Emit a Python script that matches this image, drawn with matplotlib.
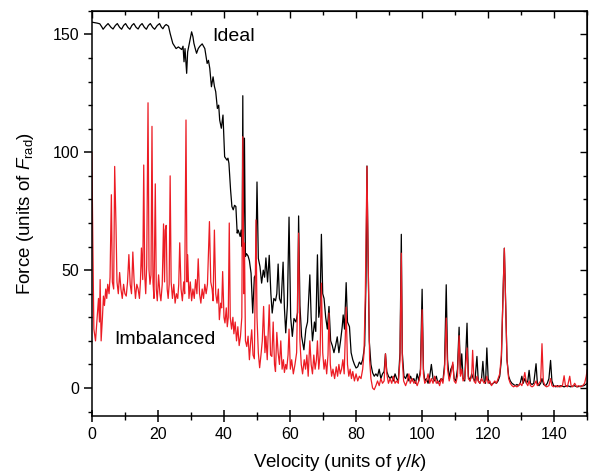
import matplotlib
matplotlib.use('Agg')
import matplotlib.pyplot as plt
from matplotlib.ticker import MultipleLocator

plt.rcParams['font.family'] = ['Liberation Sans', 'DejaVu Sans']
plt.rcParams['mathtext.fontset'] = 'custom'
plt.rcParams['mathtext.rm'] = 'Liberation Sans'
plt.rcParams['mathtext.it'] = 'Liberation Sans:italic'

# Ideal (black) force vs velocity
vel_ideal = [0, 0.8, 1.6, 2.4, 3.0, 3.4, 4.2, 4.9, 5.8, 6.4, 7.1, 7.7, 8.4, 9.0,
             9.6, 10.2, 10.9, 11.5, 12.1, 12.7, 13.4, 14.0, 14.6, 15.2, 15.9, 16.5,
             17.1, 17.7, 18.4, 19.0, 19.8, 20.5, 21.0, 21.5, 22.0, 22.5,
             23.2, 23.7, 24.5, 25.5, 26.2, 27.2, 27.6, 27.9, 28.2, 28.4, 28.7, 29.0,
             29.7, 30.2, 30.6, 30.9, 31.3, 31.7, 32.2, 32.7, 33.4, 34.2, 34.9, 35.3,
             35.7, 36.2, 36.7, 37.1, 37.5, 38.0, 38.4, 38.7, 39.2, 39.7, 40.2, 40.9,
             41.2, 41.5, 42.0, 42.4, 42.8, 43.2, 43.6, 44.0, 44.3, 44.9, 45.2, 45.5,
             45.7, 45.9, 46.2, 46.5, 46.8, 47.3, 47.7, 48.2, 48.7, 49.2, 49.6, 50.0,
             50.4, 50.9, 51.4, 51.9, 52.3, 52.7, 53.2, 53.7, 54.2, 54.6, 55.1, 55.6,
             56.0, 56.4, 56.8, 57.3, 57.9, 58.3, 58.7, 59.2, 59.7, 60.2, 60.7, 61.2,
             61.8, 62.3, 62.6, 63.0, 63.5, 64.2, 64.8, 65.3, 66.0, 66.4, 66.8, 67.4,
             67.8, 68.3, 68.7, 69.1, 69.5, 69.9, 70.3, 70.8, 71.3, 71.8, 72.3, 72.8,
             73.3, 73.8, 74.3, 74.8, 75.3, 75.8, 76.1, 76.5, 77.0, 77.4, 78.0, 78.5,
             79.0, 79.5, 80.0, 80.5, 81.0, 81.5, 82.0, 82.6, 83.0, 83.3, 83.6, 84.0,
             84.5, 85.0, 85.5, 86.0, 86.5, 87.0, 87.5, 88.0, 88.5, 88.9, 89.3, 89.8,
             90.3, 90.8, 91.3, 91.8, 92.3, 92.8, 93.3, 93.7, 94.0, 94.5, 95.0, 95.5,
             96.0, 96.5, 97.0, 97.5, 98.0, 98.5, 99.0, 99.5, 100.0, 100.4, 100.8, 101.3,
             101.8, 102.3, 102.8, 103.3, 103.8, 104.3, 104.8, 105.3, 105.8, 106.3, 106.8,
             107.3, 107.7, 108.2, 108.7, 109.3, 109.7, 110.2, 110.7, 111.2, 111.6, 112.0,
             112.4, 112.9, 113.6, 114.0, 114.5, 115.0, 115.5, 116.0, 116.6, 117.0, 117.5,
             118.0, 118.4, 118.8, 119.2, 119.6, 120.0, 120.5, 121.0, 121.5, 122.0, 122.5,
             123.0, 123.5, 124.0, 124.5, 124.9, 125.3, 125.7, 126.2, 126.7, 127.2, 127.7,
             128.2, 128.7, 129.2, 129.7, 130.2, 130.6, 131.1, 131.6, 132.0, 132.4, 132.8,
             133.3, 133.8, 134.5, 134.9, 135.4, 135.9, 136.3, 136.8, 137.4, 137.9, 138.4,
             138.9, 139.3, 139.8, 140.5, 141.0, 141.5, 142.0, 143.0, 144.0, 145.0, 146.0,
             147.0, 148.0, 149.0, 150.0]
force_ideal = [155.2, 155.0, 154.8, 154.5, 153.2, 152.2, 153.6, 154.6, 153.0, 152.3, 153.8, 154.6,
               153.0, 152.2, 153.8, 154.6, 153.0, 152.2, 153.8, 154.6, 153.0, 152.3, 153.8, 154.6,
               153.0, 152.2, 153.8, 154.6, 153.0, 152.2, 153.8, 154.6, 153.2, 152.4, 153.6, 154.2,
               153.5, 150.4, 146.2, 144.0, 144.7, 143.6, 145.0, 138.4, 144.0, 140.0, 133.5, 142.6,
               147.6, 151.1, 149.0, 146.2, 144.0, 142.0, 144.0, 145.0, 146.0, 144.0, 137.7, 139.0,
               135.6, 127.8, 132.0, 128.0, 125.7, 118.6, 120.0, 113.7, 110.2, 115.8, 98.1, 96.7,
               97.5, 95.3, 84.0, 77.0, 75.6, 77.5, 77.0, 65.7, 67.0, 64.3, 67.0, 60.0,
               124.0, 58.0, 106.0, 55.8, 57.0, 56.0, 54.0, 48.7, 31.8, 47.0, 48.0, 87.4,
               55.0, 51.5, 44.5, 50.0, 47.0, 55.2, 45.0, 56.3, 40.0, 31.8, 38.0, 37.0,
               40.0, 52.6, 38.0, 36.0, 53.4, 34.0, 23.4, 35.0, 72.5, 30.0, 21.9, 29.5,
               28.0, 32.0, 73.0, 35.0, 22.0, 16.2, 25.0, 28.0, 48.0, 30.0, 20.0, 28.0,
               24.0, 56.5, 30.0, 35.0, 65.2, 40.0, 38.0, 30.0, 25.0, 34.6, 20.0, 18.0,
               15.0, 18.0, 21.7, 15.0, 20.0, 26.0, 31.0, 25.0, 44.7, 28.0, 26.0, 15.0,
               12.0, 10.0, 8.5, 9.0, 11.0, 10.0, 12.0, 18.0, 45.0, 94.2, 60.0, 20.0,
               10.0, 6.5, 5.0, 6.0, 5.0, 8.0, 4.0, 6.0, 7.0, 14.5, 7.0, 5.0,
               4.0, 5.0, 3.0, 6.0, 4.0, 3.0, 15.0, 65.2, 15.0, 5.0, 4.0, 6.0,
               3.0, 5.0, 3.0, 4.0, 2.0, 6.0, 3.0, 8.0, 41.9, 8.0, 3.0, 4.0,
               2.0, 5.0, 10.0, 4.0, 3.0, 5.0, 2.0, 3.0, 4.0, 3.0, 10.0,
               43.8, 12.0, 4.0, 8.0, 9.9, 4.0, 3.0, 8.0, 25.8, 6.0, 14.5,
               4.0, 3.0, 27.5, 5.0, 3.0, 6.0, 4.0, 3.0, 13.4, 3.0, 2.0,
               4.0, 11.3, 3.0, 2.0, 17.0, 4.0, 2.0, 1.5, 2.0, 2.5, 2.0,
               3.0, 5.0, 12.0, 40.0, 59.3, 35.0, 12.0, 5.0, 3.0, 2.0, 1.5,
               1.0, 1.5, 1.0, 2.0, 5.0, 2.0, 4.0, 2.0, 3.0, 7.5, 2.0,
               1.5, 2.0, 10.3, 2.0, 1.0, 2.0, 4.0, 1.5, 1.0, 2.0, 4.0,
               11.7, 3.0, 1.0, 0.5, 1.0, 0.5, 1.0, 0.5, 1.0, 0.5, 1.0,
               0.5, 0.8, 1.0, 2.0]

# Imbalanced (red) force vs velocity
vel_imb = [0, 0.3, 0.6, 1.1, 1.6, 2.0, 2.3, 2.5, 2.8, 3.2, 3.5, 3.8, 4.2, 4.5, 4.8, 5.2,
           5.5, 5.9, 6.2, 6.6, 6.9, 7.3, 7.6, 8.0, 8.4, 8.8, 9.2, 9.6, 10.0, 10.4, 10.8,
           11.2, 11.6, 12.0, 12.4, 12.8, 13.2, 13.6, 14.0, 14.4, 14.7, 15.0, 15.4, 15.7,
           16.0, 16.3, 16.6, 17.0, 17.3, 17.6, 17.9, 18.2, 18.5, 18.8, 19.2, 19.5, 19.8,
           20.2, 20.6, 20.9, 21.3, 21.7, 22.0, 22.2, 22.5, 22.8, 23.1, 23.4, 23.7, 24.0,
           24.4, 24.8, 25.2, 25.6, 26.0, 26.3, 26.6, 27.0, 27.4, 27.8, 28.1, 28.5, 28.8,
           29.0, 29.4, 29.8, 30.2, 30.6, 31.0, 31.4, 31.8, 32.2, 32.6, 33.0, 33.4, 33.8,
           34.2, 34.6, 35.0, 35.6, 36.0, 36.4, 36.7, 37.1, 37.5, 37.9, 38.3, 38.6, 39.0,
           39.3, 39.6, 40.0, 40.3, 40.7, 41.0, 41.3, 41.6, 41.9, 42.3, 42.7, 43.0, 43.4,
           43.8, 44.2, 44.6, 45.0, 45.4, 45.7, 46.0, 46.2, 46.5, 46.9, 47.3, 47.7, 48.1,
           48.4, 48.8, 49.2, 49.7, 50.0, 50.4, 50.8, 51.2, 51.6, 52.0, 52.4, 52.7, 53.1,
           53.7, 54.1, 54.5, 54.9, 55.3, 55.6, 56.0, 56.4, 56.8, 57.2, 57.6, 58.0, 58.3,
           58.7, 59.0, 59.4, 59.7, 60.1, 60.5, 61.0, 61.5, 62.0, 62.6, 63.0, 63.4, 63.8,
           64.3, 64.7, 65.1, 65.5, 66.0, 66.4, 66.8, 67.2, 67.6, 68.0, 68.3, 68.7, 69.1,
           69.5, 69.9, 70.3, 70.7, 71.1, 71.5, 71.8, 72.2, 72.6, 73.0, 73.5, 74.0, 74.4,
           74.8, 75.2, 75.6, 76.0, 76.4, 77.0, 77.4, 77.8, 78.2, 78.6, 79.0, 79.5, 80.0,
           80.5, 81.0, 81.5, 82.0, 82.4, 82.8, 83.3, 83.7, 84.1, 84.5, 85.0, 85.5, 86.0,
           86.5, 87.0, 87.5, 88.0, 88.5, 88.9, 89.3, 89.8, 90.3, 90.8, 91.3, 91.8, 92.3,
           92.8, 93.3, 93.7, 94.0, 94.4, 95.0, 95.5, 96.0, 96.4, 97.0, 97.5, 98.0, 98.5,
           99.0, 99.5, 100.0, 100.4, 100.8, 101.3, 101.8, 102.3, 102.8, 103.3, 103.8,
           104.3, 104.8, 105.3, 105.8, 106.3, 106.8, 107.3, 107.7, 108.2, 108.7, 109.3,
           109.7, 110.2, 110.7, 111.2, 111.6, 112.0, 112.4, 112.9, 113.6, 114.0, 114.5,
           115.0, 115.3, 115.7, 116.2, 116.6, 117.0, 117.5, 118.0, 118.4, 118.8, 119.3,
           119.6, 120.0, 120.5, 121.0, 121.5, 122.0, 122.5, 123.0, 123.5, 124.0, 124.5,
           124.9, 125.3, 125.7, 126.2, 126.7, 127.2, 127.7, 128.2, 128.7, 129.2, 129.7,
           130.2, 130.6, 131.1, 131.6, 132.0, 132.4, 132.8, 133.3, 133.8, 134.5, 134.9,
           135.4, 135.9, 136.3, 136.7, 137.2, 137.7, 138.4, 138.9, 139.3, 139.8, 140.5,
           141.0, 141.5, 142.0, 142.5, 143.0, 143.4, 144.0, 144.7, 145.1, 145.6, 146.2,
           146.8, 147.3, 148.0, 148.6, 149.2, 149.7, 150.0]
force_imb = [100.0, 60.0, 25.0, 20.0, 30.0, 38.0, 28.0, 46.0, 20.0, 30.0, 39.0, 35.0, 42.0, 38.0, 44.0, 40.0,
             47.0, 82.0, 45.0, 42.0, 94.0, 69.0, 45.0, 40.0, 49.0, 42.0, 38.0, 44.0, 40.0, 39.0, 45.0,
             56.6, 44.0, 40.0, 57.7, 45.0, 38.0, 44.0, 42.0, 38.0, 45.0, 59.4, 46.0, 94.6,
             48.0, 40.0, 52.0, 121.0, 50.0, 44.0, 48.0, 111.0, 45.0, 38.0, 86.6, 42.0, 37.0,
             48.0, 40.0, 37.0, 44.0, 69.6, 45.0, 67.0, 69.0, 42.0, 38.0, 44.0, 90.0, 45.0,
             38.0, 44.0, 36.0, 40.0, 38.0, 44.0, 61.6, 42.0, 37.0, 45.0, 40.0, 113.7, 45.0,
             56.5, 38.0, 45.0, 37.0, 42.0, 38.0, 46.0, 40.0, 54.8, 40.0, 36.0, 42.0, 38.0,
             44.0, 40.0, 44.0, 70.6, 45.0, 42.0, 37.0, 67.0, 40.0, 36.0, 42.0, 29.0, 36.0,
             34.0, 49.4, 30.0, 27.6, 34.0, 26.0, 30.0, 70.0, 30.0, 25.0, 30.0, 23.0, 28.0,
             20.0, 26.0, 18.0, 22.0, 30.0, 106.6, 40.0, 61.5, 20.0, 17.6, 22.0, 12.0, 20.0,
             24.7, 14.0, 12.4, 71.3, 30.0, 15.0, 8.6, 14.0, 20.0, 34.6, 15.0, 22.0, 12.0,
             35.3, 14.0, 13.4, 28.0, 10.0, 7.0, 23.6, 15.0, 10.0, 20.0, 8.0, 12.0, 6.6,
             10.0, 8.0, 14.0, 25.0, 8.0, 12.0, 6.0, 10.0, 15.0, 65.7, 20.0, 10.0, 6.0,
             12.0, 8.0, 14.0, 5.0, 20.0, 10.0, 6.0, 14.0, 8.0, 12.0, 20.0, 8.0, 14.0,
             44.5, 15.0, 8.0, 12.0, 6.0, 14.0, 31.8, 10.0, 5.0, 8.0, 4.0, 9.0, 5.0,
             10.0, 6.0, 8.0, 12.0, 6.0, 34.3, 10.0, 5.0, 8.0, 4.0, 7.0, 3.0, 6.0,
             3.0, 5.0, 4.0, 8.0, 14.8, 40.0, 94.0, 50.0, 12.0, 4.0, 0.0, -0.7, 1.0,
             3.0, 1.0, 4.0, 2.0, 3.0, 14.5, 6.0, 2.0, 4.0, 2.0, 5.0, 2.0, 3.0,
             2.0, 12.0, 57.2, 12.0, 3.0, 1.0, 3.0, 6.0, 2.0, 4.0, 2.0, 3.0, 1.0,
             3.0, 6.0, 33.2, 6.0, 2.0, 3.0, 6.0, 2.0, 4.0, 2.0, 5.0,
             2.0, 3.0, 1.0, 4.0, 2.0, 8.0, 29.7, 8.0, 3.0, 6.0, 11.0,
             3.0, 2.0, 5.0, 22.2, 5.0, 8.0, 3.0, 4.0, 17.0, 4.0, 3.0,
             5.0, 16.0, 3.0, 2.0, 5.0, 3.0, 2.0, 4.0, 3.0, 2.0, 3.0,
             5.0, 2.0, 3.0, 1.0, 2.0, 3.0, 2.0, 4.0, 6.0, 14.0, 40.0,
             59.3, 35.0, 12.0, 4.0, 2.0, 1.0, 0.5, 1.0, 0.5, 1.0, 2.0,
             1.0, 3.0, 6.6, 2.0, 1.0, 3.0, 1.0, 0.5, 1.0, 3.0, 1.0,
             2.0, 3.0, 18.8, 3.0, 1.0, 0.5, 1.0, 4.0, 1.0, 0.5, 1.0,
             0.5, 1.0, 0.5, 1.0, 5.2, 1.0, 0.5, 5.0, 1.0, 0.5, 2.0,
             0.5, 1.0, 0.5, 1.0, 2.0, 5.0, 7.8]

fig = plt.figure(figsize=(5.89, 4.72), dpi=100)
ax = fig.add_axes([0.156, 0.118, 0.841, 0.859])

ax.plot(vel_ideal, force_ideal, color='black', linewidth=0.9)
ax.plot(vel_imb, force_imb, color='#ec1c24', linewidth=0.9)

ax.text(42.9, 149, 'Ideal', fontsize=14, ha='center', va='center')
ax.text(22.2, 20.5, 'Imbalanced', fontsize=14, ha='center', va='center')

ax.set_xlim(0, 150)
ax.set_ylim(-12, 160)
ax.xaxis.set_major_locator(MultipleLocator(20))
ax.xaxis.set_minor_locator(MultipleLocator(10))
ax.yaxis.set_major_locator(MultipleLocator(50))
ax.yaxis.set_minor_locator(MultipleLocator(10))

ax.tick_params(axis='x', which='both', direction='inout', top=False, labelsize=11.5)
ax.tick_params(axis='x', which='major', length=9, width=1.1)
ax.tick_params(axis='x', which='minor', length=6, width=1.0)
ax.tick_params(axis='y', which='both', direction='out', right=False, labelsize=11.5)
ax.tick_params(axis='y', which='major', length=5.5, width=1.1)
ax.tick_params(axis='y', which='minor', length=3, width=1.0)

# inward ticks on top and right spines
sec_x = ax.secondary_xaxis('top')
sec_x.xaxis.set_major_locator(MultipleLocator(20))
sec_x.xaxis.set_minor_locator(MultipleLocator(10))
sec_x.tick_params(which='both', direction='in', labeltop=False, width=1.0)
sec_x.tick_params(which='major', length=5)
sec_x.tick_params(which='minor', length=3)
sec_y = ax.secondary_yaxis('right')
sec_y.yaxis.set_major_locator(MultipleLocator(50))
sec_y.yaxis.set_minor_locator(MultipleLocator(10))
sec_y.tick_params(which='both', direction='in', labelright=False, width=1.0)
sec_y.tick_params(which='major', length=5)
sec_y.tick_params(which='minor', length=3)

for sp in ax.spines.values():
    sp.set_linewidth(1.1)

ax.set_xlabel(r'Velocity (units of $\gamma$/$k$)', fontsize=13.5, labelpad=7)
ax.set_ylabel(r'Force (units of $F_{\rm rad}$)', fontsize=13.5, labelpad=12)

fig.savefig('out.png', dpi=100)
